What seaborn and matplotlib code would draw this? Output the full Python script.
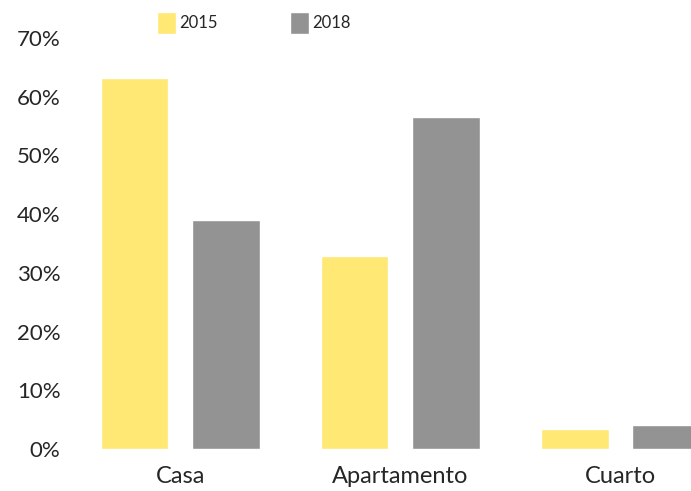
import matplotlib
matplotlib.use("Agg")
import matplotlib.pyplot as plt
import seaborn as sns
import pandas as pd

categories = ["Casa", "Apartamento", "Cuarto"]
years = ["2015", "2018"]
values_2015 = [0.632, 0.329, 0.034]
values_2018 = [0.390, 0.566, 0.041]
y_ticks = [0.0, 0.1, 0.2, 0.3, 0.4, 0.5, 0.6, 0.7]

df = pd.DataFrame({
    "tipo": categories * 2,
    "anio": [years[0]] * 3 + [years[1]] * 3,
    "valor": values_2015 + values_2018,
})

sns.set_style("white")
plt.rcParams["font.family"] = ["Lato", "DejaVu Sans"]

fig = plt.figure(figsize=(6.91, 4.91), dpi=100)
ax = fig.add_axes([80 / 691, 42 / 491, 611 / 691, 411 / 491])

sns.barplot(
    data=df, x="tipo", y="valor", hue="anio",
    palette={"2015": "#FFE873", "2018": "#939393"},
    width=0.83, gap=0.26, saturation=1, ax=ax, legend=True,
)

ax.set_xlim(-0.455, 2.32)
ax.set_ylim(0, 0.7)
ax.set_yticks(y_ticks)
ax.set_yticklabels([f"{int(round(t * 100))}%" for t in y_ticks], fontsize=16)
ax.tick_params(axis="y", length=0, pad=14)
ax.tick_params(axis="x", length=0, pad=12, labelsize=17)
ax.set_xlabel("")
ax.set_ylabel("")
sns.despine(ax=ax, left=True, bottom=True)

ax.legend(
    loc="upper left", bbox_to_anchor=(157 / 691, 1 - 12 / 491),
    bbox_transform=fig.transFigure, ncol=2, frameon=False,
    fontsize=12, handlelength=1.15, handleheight=1.65,
    handletextpad=0.2, columnspacing=4.3, borderpad=0, borderaxespad=0,
)

fig.savefig("out.png", dpi=100)
